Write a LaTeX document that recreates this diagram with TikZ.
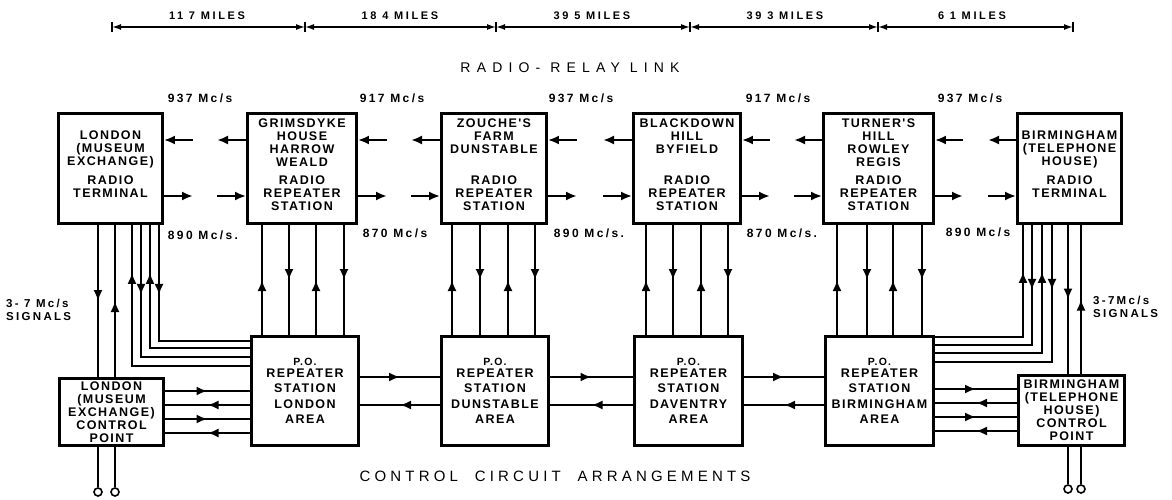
\documentclass[tikz,border=0pt]{standalone}
\usepackage{fontspec}
\setmainfont{Liberation Sans}
\newfontfamily\boxfont[LetterSpace=11.5]{Liberation Sans}
\newfontfamily\smallfont[LetterSpace=20]{Liberation Sans}
\newfontfamily\milesfont[LetterSpace=24]{Liberation Sans}
\newfontfamily\ttlfont[LetterSpace=44]{Liberation Sans}
\newfontfamily\cttlfont[LetterSpace=28]{Liberation Sans}
\usetikzlibrary{arrows.meta,decorations.markings,calc}
\begin{document}
\begin{tikzpicture}[x=1pt,y=-1pt,
  >={Latex[length=11pt,width=9pt]},
  box/.style={draw,line width=2.8pt,align=center,inner sep=0pt,font=\boxfont\bfseries\fontsize{12.5pt}{13pt}\selectfont},
  pobox/.style={box,font=\boxfont\bfseries\fontsize{12.5pt}{15.5pt}\selectfont},
  freq/.style={font=\smallfont\bfseries\fontsize{12pt}{13pt}\selectfont,inner sep=0pt},
  miles/.style={font=\milesfont\bfseries\fontsize{11pt}{12pt}\selectfont,inner sep=0pt},
  ttl/.style={font=\ttlfont\fontsize{14pt}{15pt}\selectfont,inner sep=0pt},
  cttl/.style={font=\cttlfont\fontsize{15pt}{16pt}\selectfont,inner sep=0pt},
  sig/.style={font=\smallfont\bfseries\fontsize{11.5pt}{13pt}\selectfont,align=left,inner sep=0pt,anchor=west},
  vl/.style={line width=2.2pt},
  wl/.style={line width=1.8pt},
  cl/.style={line width=2.2pt},
  rl/.style={line width=2.4pt,->},
  dimln/.style={line width=1.5pt,{Latex[length=9pt,width=6pt]}-{Latex[length=9pt,width=6pt]}},
  tickln/.style={line width=1.8pt},
  term/.style={circle,draw,line width=1.6pt,minimum size=8pt,inner sep=0pt},
  am/.style={postaction={decorate},decoration={markings,mark=at position #1 with {\arrow{>}}}},
  am/.default=0.5
]
\useasboundingbox (0,0) rectangle (1172,500);
\fill[white] (0,0) rectangle (1172,500);

% ---- distance scale ----
\coordinate (m0) at (112,27);
\coordinate (m1) at (305,27);
\coordinate (m2) at (496,27);
\coordinate (m3) at (690,27);
\coordinate (m4) at (878,27);
\coordinate (m5) at (1073,27);
\foreach \i in {0,...,5} \draw[tickln] ($(m\i)+(0,-5)$) -- ($(m\i)+(0,5)$);
\draw[dimln] (m0) -- (m1);
\draw[dimln] (m1) -- (m2);
\draw[dimln] (m2) -- (m3);
\draw[dimln] (m3) -- (m4);
\draw[dimln] (m4) -- (m5);
\node[miles] (d1) at (207,16) {11 7 MILES};
\node[miles] (d2) at (400,16) {18 4 MILES};
\node[miles] (d3) at (592,16) {39 5 MILES};
\node[miles] (d4) at (785,16) {39 3 MILES};
\node[miles] (d5) at (972,16) {6 1 MILES};

\node[ttl] (rrl) at (570,68) {RADIO- RELAY LINK};

% ---- top frequencies ----
\node[freq] (f1) at (200,98) {937 Mc/s};
\node[freq] (f2) at (392,98) {917 Mc/s};
\node[freq] (f3) at (581,98) {937 Mc/s};
\node[freq] (f4) at (778,98) {917 Mc/s};
\node[freq] (f5) at (970,98) {937 Mc/s};

% ---- radio stations ----
\node[box,minimum width=104pt,minimum height=110pt] (LT) at (110.5,168.5) {LONDON\\(MUSEUM\\EXCHANGE)\\[6pt]RADIO\\TERMINAL\\[-4pt]};
\node[box,minimum width=109pt,minimum height=110pt] (GR) at (302,168.5) {GRIMSDYKE\\HOUSE\\HARROW\\WEALD\\[5pt]RADIO\\REPEATER\\STATION\\[-6pt]};
\node[box,minimum width=105pt,minimum height=110pt] (ZF) at (494,168.5) {ZOUCHE'S\\FARM\\DUNSTABLE\\[18pt]RADIO\\REPEATER\\STATION\\[-6pt]};
\node[box,minimum width=107pt,minimum height=110pt] (BH) at (687,168.5) {BLACKDOWN\\HILL\\BYFIELD\\[18pt]RADIO\\REPEATER\\STATION\\[-6pt]};
\node[box,minimum width=110pt,minimum height=110pt] (TH) at (878.5,168.5) {TURNER'S\\HILL\\ROWLEY\\REGIS\\[5pt]RADIO\\REPEATER\\STATION\\[-6pt]};
\node[box,minimum width=104pt,minimum height=110pt] (BT) at (1069.5,168.5) {BIRMINGHAM\\(TELEPHONE\\HOUSE)\\[6pt]RADIO\\TERMINAL\\[-4pt]};

% ---- lower frequencies ----
\node[freq] (g1) at (203,235) {890 Mc/s.};
\node[freq] (g2) at (395,233) {870 Mc/s};
\node[freq] (g3) at (589,233) {890 Mc/s.};
\node[freq] (g4) at (782,233) {870 Mc/s.};
\node[freq] (g5) at (978,232) {890 Mc/s};

% ---- P.O. repeater stations ----
\node[pobox,minimum width=107pt,minimum height=109pt] (PL) at (305,391) {{\fontsize{10.5pt}{12pt}\selectfont P.O.}\\[-3.5pt]REPEATER\\STATION\\LONDON\\AREA};
\node[pobox,minimum width=107pt,minimum height=109pt] (PD) at (495,391) {{\fontsize{10.5pt}{12pt}\selectfont P.O.}\\[-3.5pt]REPEATER\\STATION\\DUNSTABLE\\AREA};
\node[pobox,minimum width=108pt,minimum height=109pt] (PV) at (688.5,391) {{\fontsize{10.5pt}{12pt}\selectfont P.O.}\\[-3.5pt]REPEATER\\STATION\\DAVENTRY\\AREA};
\node[pobox,minimum width=108pt,minimum height=109pt] (PB) at (879.5,391) {{\fontsize{10.5pt}{12pt}\selectfont P.O.}\\[-3.5pt]REPEATER\\STATION\\BIRMINGHAM\\AREA};

% ---- control points ----
\node[box,minimum width=104pt,minimum height=67pt] (CL) at (111.5,412) {LONDON\\(MUSEUM\\EXCHANGE)\\CONTROL\\POINT};
\node[box,minimum width=106pt,minimum height=70pt] (CB) at (1071.5,410.5) {BIRMINGHAM\\(TELEPHONE\\HOUSE)\\CONTROL\\POINT};

\node[cttl] (cca) at (555,476) {CONTROL\ \ CIRCUIT\ \ ARRANGEMENTS};
\node[sig] (s1) at (6,310) {3- 7 Mc/s\\SIGNALS};
\node[sig] (s2) at (1093,307) {3-7Mc/s\\SIGNALS};

% ---- radio links ----
\foreach \A/\B/\xa/\xb in {LT/GR/193/217, GR/ZF/387/411, ZF/BH/577/603, BH/TH/770/794, TH/BT/963/988}{
  \coordinate (\A-ua) at (\xa,140);
  \coordinate (\A-ub) at (\xb,140);
  \coordinate (\A-da) at (\xa,196);
  \coordinate (\A-db) at (\xb,196);
  \draw[rl] (\A-ua) -- (\A.east |- \A-ua);
  \draw[rl] (\B.west |- \A-ub) -- (\A-ub);
  \draw[rl] (\A.east |- \A-da) -- (\A-da);
  \draw[rl] (\A-db) -- (\B.west |- \A-db);
}

% ---- repeater to P.O. verticals ----
\foreach \T/\P/\a/\b/\c/\d in {GR/PL/262/289/316/344, ZF/PD/452/480/508/535, BH/PV/646/673/701/728, TH/PB/837/867/893/922}{
  \coordinate (\T-a) at (\a,280);
  \coordinate (\T-b) at (\b,280);
  \coordinate (\T-c) at (\c,280);
  \coordinate (\T-d) at (\d,280);
  \draw[vl,am] (\P.north -| \T-a) -- (\T.south -| \T-a);
  \draw[vl,am] (\T.south -| \T-b) -- (\P.north -| \T-b);
  \draw[vl,am] (\P.north -| \T-c) -- (\T.south -| \T-c);
  \draw[vl,am] (\T.south -| \T-d) -- (\P.north -| \T-d);
}

% ---- P.O. chain ----
\coordinate (pu) at (0,377);
\coordinate (pd) at (0,405);
\draw[cl,am] (PL.east |- pu) -- (PD.west |- pu);
\draw[cl,am] (PD.west |- pd) -- (PL.east |- pd);
\draw[cl,am] (PD.east |- pu) -- (PV.west |- pu);
\draw[cl,am] (PV.west |- pd) -- (PD.east |- pd);
\draw[cl,am] (PV.east |- pu) -- (PB.west |- pu);
\draw[cl,am] (PB.west |- pd) -- (PV.east |- pd);

% ---- London wiring ----
\coordinate (la) at (132,366);
\coordinate (lb) at (141,357);
\coordinate (lc) at (150,348);
\coordinate (ld) at (159,341);
\draw[wl,am=-48pt] (PL.west |- la) -- (la) -- (LT.south -| la);
\draw[wl,am=70pt] (LT.south -| lb) -- (lb) -- (PL.west |- lb);
\draw[wl,am=-48pt] (PL.west |- lc) -- (lc) -- (LT.south -| lc);
\draw[wl,am=70pt] (LT.south -| ld) -- (ld) -- (PL.west |- ld);
\coordinate (lx) at (98,0);
\coordinate (ly) at (115,0);
\draw[wl,am] (LT.south -| lx) -- (CL.north -| lx);
\draw[wl,am] (CL.north -| ly) -- (LT.south -| ly);
\node[term] (o1) at (98,492) {};
\node[term] (o2) at (115,492) {};
\draw[wl] (CL.south -| o1) -- (o1);
\draw[wl] (CL.south -| o2) -- (o2);
\coordinate (c1) at (0,391);
\coordinate (c2) at (0,405);
\coordinate (c3) at (0,419);
\coordinate (c4) at (0,433);
\draw[cl,am] (CL.east |- c1) -- (PL.west |- c1);
\draw[cl,am] (PL.west |- c2) -- (CL.east |- c2);
\draw[cl,am] (CL.east |- c3) -- (PL.west |- c3);
\draw[cl,am] (PL.west |- c4) -- (CL.east |- c4);

% ---- Birmingham wiring ----
\coordinate (ba) at (1023,337);
\coordinate (bb) at (1032,345);
\coordinate (bc) at (1042,353);
\coordinate (bd) at (1052,362);
\draw[wl,am=-47pt] (PB.east |- ba) -- (ba) -- (BT.south -| ba);
\draw[wl,am=65pt] (BT.south -| bb) -- (bb) -- (PB.east |- bb);
\draw[wl,am=-47pt] (PB.east |- bc) -- (bc) -- (BT.south -| bc);
\draw[wl,am=65pt] (BT.south -| bd) -- (bd) -- (PB.east |- bd);
\coordinate (bx) at (1068,0);
\coordinate (by) at (1081,0);
\draw[wl,am] (BT.south -| bx) -- (CB.north -| bx);
\draw[wl,am] (CB.north -| by) -- (BT.south -| by);
\node[term] (o3) at (1068,489) {};
\node[term] (o4) at (1081,489) {};
\draw[wl] (CB.south -| o3) -- (o3);
\draw[wl] (CB.south -| o4) -- (o4);
\coordinate (e1) at (0,389);
\coordinate (e2) at (0,403);
\coordinate (e3) at (0,417);
\coordinate (e4) at (0,431);
\draw[cl,am] (PB.east |- e1) -- (CB.west |- e1);
\draw[cl,am] (CB.west |- e2) -- (PB.east |- e2);
\draw[cl,am] (PB.east |- e3) -- (CB.west |- e3);
\draw[cl,am] (CB.west |- e4) -- (PB.east |- e4);
\end{tikzpicture}
\end{document}
